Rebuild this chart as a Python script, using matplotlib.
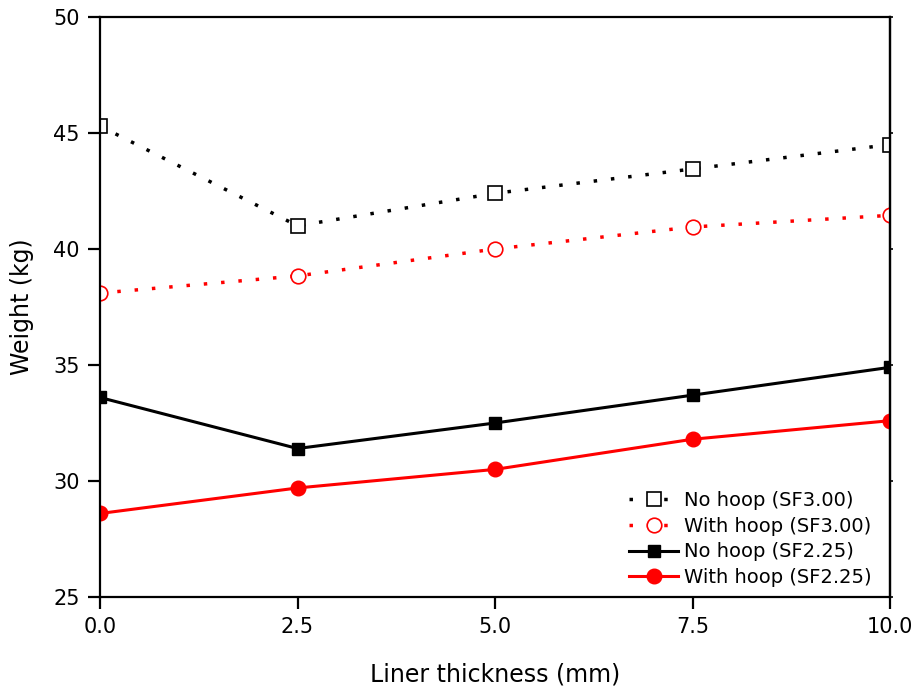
import matplotlib
matplotlib.use("Agg")
import matplotlib.pyplot as plt

# liner thickness (mm) vs tank weight (kg)
thickness = [0.0, 2.5, 5.0, 7.5, 10.0]
no_hoop_sf300 = [45.3, 41.0, 42.4, 43.45, 44.5]
with_hoop_sf300 = [38.1, 38.84, 40.0, 40.95, 41.45]
no_hoop_sf225 = [33.6, 31.4, 32.5, 33.7, 34.9]
with_hoop_sf225 = [28.6, 29.7, 30.5, 31.8, 32.6]
labels = ["No hoop (SF3.00)", "With hoop (SF3.00)", "No hoop (SF2.25)", "With hoop (SF2.25)"]

plt.rcParams['font.family'] = ['DejaVu Sans']

fig = plt.figure(figsize=(9.18, 6.91), dpi=100)
ax = fig.add_axes([100/918, 94/691, 790/918, 580/691])

dots = (0, (1, 4))
ax.plot(thickness, no_hoop_sf300, color='black', lw=2.5, linestyle=dots,
        marker='s', ms=9.5, mfc='white', mec='black', mew=1.2, label=labels[0])
ax.plot(thickness, with_hoop_sf300, color='red', lw=2.5, linestyle=dots,
        marker='o', ms=10.5, mfc='white', mec='red', mew=1.2, label=labels[1])
ax.plot(thickness, no_hoop_sf225, color='black', lw=2.2,
        marker='s', ms=9, label=labels[2])
ax.plot(thickness, with_hoop_sf225, color='red', lw=2.2,
        marker='o', ms=10.5, label=labels[3])

ax.set_xlim(0, 10)
ax.set_ylim(25, 50)
ax.set_xticks([0, 2.5, 5, 7.5, 10])
ax.set_xticklabels(["0.0", "2.5", "5.0", "7.5", "10.0"])
ax.set_yticks([25, 30, 35, 40, 45, 50])

for sp in ax.spines.values():
    sp.set_linewidth(1.6)
ax.tick_params(axis='both', which='major', direction='out', length=8.5, width=1.6,
               labelsize=15, pad=6)

# short ticks on the right side
right = ax.secondary_yaxis('right')
right.set_yticks([25, 30, 35, 40, 45, 50])
right.tick_params(length=2, width=1.2, labelright=False)
right.spines['right'].set_linewidth(1.6)

ax.set_xlabel("Liner thickness (mm)", fontsize=17, labelpad=18)
ax.set_ylabel("Weight (kg)", fontsize=17)
ax.yaxis.set_label_coords(-0.083, 0.5)

ax.legend(loc='lower right', bbox_to_anchor=(1 - 9/790, 0), frameon=False,
          fontsize=14, handlelength=2.5, handletextpad=0.3, labelspacing=0.35,
          borderaxespad=0.1)

fig.savefig("out.png", dpi=100)
